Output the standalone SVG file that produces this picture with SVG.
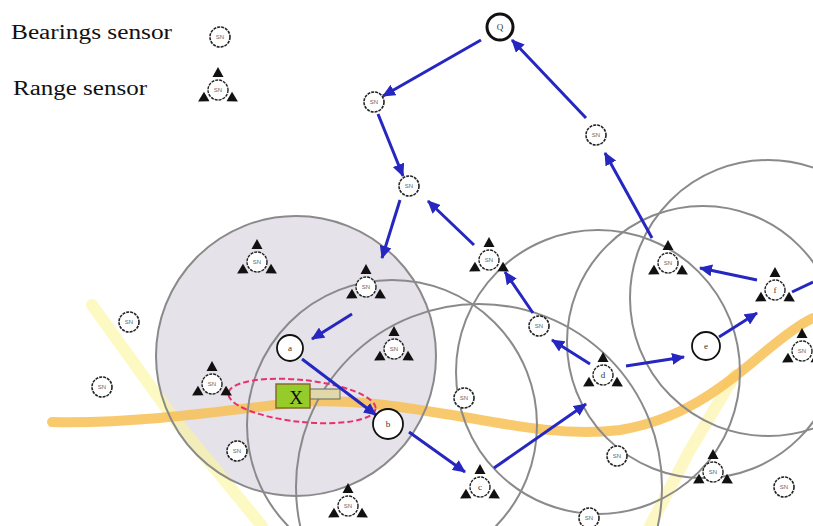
<svg xmlns="http://www.w3.org/2000/svg" xmlns:xlink="http://www.w3.org/1999/xlink" width="813" height="526" viewBox="0 0 813 526">
  <style>
    .legend { font-family: "Liberation Serif", "DejaVu Serif", serif; font-size: 20px; fill: #111; }
    .range { fill: none; stroke: #8a8a8a; stroke-width: 2; }
    .bs { fill: #fff; stroke: #222; stroke-width: 1.6; stroke-dasharray: 3 1; }
    .rsc { fill: #fff; stroke: #222; stroke-width: 1.4; stroke-dasharray: 3 1; }
    .sn { font-family: "Liberation Sans", "DejaVu Sans", sans-serif; font-size: 6px; fill: #666; text-anchor: middle; }
    .lbl { font-family: "Liberation Serif", "DejaVu Serif", serif; font-size: 9px; fill: #333; text-anchor: middle; }
    .pn { fill: #fff; stroke: #111; stroke-width: 1.8; }
    .link { stroke: #2626c0; stroke-width: 3; fill: none; marker-end: url(#head); }
  </style>
  <defs>
    <marker id="head" markerUnits="userSpaceOnUse" markerWidth="14" markerHeight="12" refX="12" refY="6" orient="auto">
      <path d="M0,0 L13,6 L0,12 z" fill="#2626c0"/>
    </marker>
    <polygon id="tri" points="0,-23 -5.5,-13 5.5,-13" fill="#111"/>
    <g id="rmarks">
      <use xlink:href="#tri"/>
      <use xlink:href="#tri" transform="rotate(120)"/>
      <use xlink:href="#tri" transform="rotate(240)"/>
    </g>
  </defs>

  <rect width="813" height="526" fill="#fff"/>

  <!-- sensing area of node a -->
  <circle cx="296" cy="356" r="140" fill="#e5e2ea"/>

  <!-- light bands -->
  <g fill="none" stroke-linecap="round">
    <path d="M92,305 L175,420 L262,526" stroke="#fbf59a" stroke-width="12" opacity="0.6"/>
    <path d="M735,375 L690,450 L650,526" stroke="#fbf08a" stroke-width="12" opacity="0.5"/>
  </g>

  <!-- road -->
  <path d="M52,422 C140,424 230,410 300,402 C360,398 420,410 470,418 C520,427 570,436 620,430 C680,420 720,390 760,356 C785,335 800,324 813,318" fill="none" stroke="#f8c055" stroke-width="10" stroke-linecap="round" opacity="0.85"/>

  <!-- sensing ranges -->
  <g id="ranges">
    <circle class="range" cx="296" cy="356" r="140"/>
    <circle class="range" cx="392" cy="425" r="145"/>
    <circle class="range" cx="479" cy="487" r="183"/>
    <circle class="range" cx="598" cy="372" r="142"/>
    <circle class="range" cx="703" cy="342" r="136"/>
    <circle class="range" cx="768" cy="298" r="138"/>
  </g>

  <!-- target uncertainty and vehicle -->
  <g id="target">
    <ellipse cx="302" cy="401" rx="74" ry="21" transform="rotate(6 302 401)" fill="none" stroke="#e8306a" stroke-width="2" stroke-dasharray="6 3"/>
    <rect x="308" y="389" width="32" height="10" fill="#e0d8a8" stroke="#7a7a6a" stroke-width="1.2"/>
    <rect x="276" y="384" width="34" height="24" fill="#96cc2a" stroke="#8a6a30" stroke-width="1.5"/>
    <text x="296" y="404" font-family="Liberation Serif, serif" font-size="19" fill="#111" text-anchor="middle">X</text>
  </g>

  <!-- legend -->
  <g id="legend">
    <text class="legend" x="11" y="39" textLength="161" lengthAdjust="spacingAndGlyphs">Bearings sensor</text>
    <text class="legend" x="13" y="95" textLength="134" lengthAdjust="spacingAndGlyphs">Range sensor</text>
    <g id="legend-bearing" transform="translate(220,37)">
      <circle class="bs" r="10"/><text class="sn" y="2">SN</text>
    </g>
    <g id="legend-range" transform="translate(218,90)">
      <use xlink:href="#rmarks"/>
      <circle class="rsc" r="10"/><text class="sn" y="2">SN</text>
    </g>
  </g>

  <!-- message path -->
  <g id="connectors">
    <line class="link" x1="481" y1="40" x2="383" y2="96"/>
    <line class="link" x1="378" y1="114" x2="403" y2="176"/>
    <line class="link" x1="400" y1="200" x2="382" y2="258"/>
    <line class="link" x1="474" y1="245" x2="428" y2="201"/>
    <line class="link" x1="352" y1="314" x2="312" y2="339"/>
    <line class="link" x1="302" y1="359" x2="376" y2="415"/>
    <line class="link" x1="409" y1="432" x2="465" y2="472"/>
    <line class="link" x1="494" y1="468" x2="586" y2="404"/>
    <line class="link" x1="590" y1="364" x2="552" y2="340"/>
    <line class="link" x1="533" y1="313" x2="505" y2="272"/>
    <line class="link" x1="626" y1="366" x2="684" y2="357"/>
    <line class="link" x1="719" y1="337" x2="757" y2="313"/>
    <line class="link" x1="757" y1="280" x2="700" y2="268"/>
    <line class="link" x1="652" y1="238" x2="605" y2="153"/>
    <line class="link" x1="586" y1="118" x2="512" y2="40"/>
    <line x1="792" y1="292" x2="813" y2="282" stroke="#2626c0" stroke-width="3"/>
  </g>

  <!-- bearing sensors -->
  <g id="bs1" transform="translate(374,102)"><circle class="bs" r="10"/><text class="sn" y="2">SN</text></g>
  <g id="bs2" transform="translate(596,135)"><circle class="bs" r="10"/><text class="sn" y="2">SN</text></g>
  <g id="bs3" transform="translate(409,186)"><circle class="bs" r="10"/><text class="sn" y="2">SN</text></g>
  <g id="bs4" transform="translate(129,322)"><circle class="bs" r="10"/><text class="sn" y="2">SN</text></g>
  <g id="bs5" transform="translate(102,387)"><circle class="bs" r="10"/><text class="sn" y="2">SN</text></g>
  <g id="bs6" transform="translate(237,451)"><circle class="bs" r="10"/><text class="sn" y="2">SN</text></g>
  <g id="bs7" transform="translate(539,326)"><circle class="bs" r="10"/><text class="sn" y="2">SN</text></g>
  <g id="bs8" transform="translate(464,398)"><circle class="bs" r="10"/><text class="sn" y="2">SN</text></g>
  <g id="bs9" transform="translate(617,456)"><circle class="bs" r="10"/><text class="sn" y="2">SN</text></g>
  <g id="bs10" transform="translate(784,487)"><circle class="bs" r="10"/><text class="sn" y="2">SN</text></g>
  <g id="bs11" transform="translate(589,518)"><circle class="bs" r="10"/><text class="sn" y="2">SN</text></g>

  <!-- range sensors -->
  <g id="rs1" transform="translate(257,262)"><use xlink:href="#rmarks"/><circle class="rsc" r="10"/><text class="sn" y="2">SN</text></g>
  <g id="rs2" transform="translate(366,287)"><use xlink:href="#rmarks"/><circle class="rsc" r="10"/><text class="sn" y="2">SN</text></g>
  <g id="rs3" transform="translate(394,349)"><use xlink:href="#rmarks"/><circle class="rsc" r="10"/><text class="sn" y="2">SN</text></g>
  <g id="rs4" transform="translate(212,384)"><use xlink:href="#rmarks"/><circle class="rsc" r="10"/><text class="sn" y="2">SN</text></g>
  <g id="rs5" transform="translate(489,260)"><use xlink:href="#rmarks"/><circle class="rsc" r="10"/><text class="sn" y="2">SN</text></g>
  <g id="rs6" transform="translate(668,263)"><use xlink:href="#rmarks"/><circle class="rsc" r="10"/><text class="sn" y="2">SN</text></g>
  <g id="rs7" transform="translate(802,351)"><use xlink:href="#rmarks"/><circle class="rsc" r="10"/><text class="sn" y="2">SN</text></g>
  <g id="rs8" transform="translate(348,506)"><use xlink:href="#rmarks"/><circle class="rsc" r="10"/><text class="sn" y="2">SN</text></g>
  <g id="rs9" transform="translate(713,472)"><use xlink:href="#rmarks"/><circle class="rsc" r="10"/><text class="sn" y="2">SN</text></g>

  <!-- path nodes -->
  <g id="node-f" transform="translate(775,290)"><use xlink:href="#rmarks"/><circle class="rsc" r="10"/><text class="lbl" y="3">f</text></g>
  <g id="node-d" transform="translate(603,375)"><use xlink:href="#rmarks"/><circle class="rsc" r="10"/><text class="lbl" y="3">d</text></g>
  <g id="node-c" transform="translate(480,487)"><use xlink:href="#rmarks"/><circle class="rsc" r="10"/><text class="lbl" y="3">c</text></g>
  <g id="node-a" transform="translate(290,348)"><circle class="pn" r="13"/><text class="lbl" y="3">a</text></g>
  <g id="node-b" transform="translate(388,424)"><circle class="pn" r="15"/><text class="lbl" y="3">b</text></g>
  <g id="node-e" transform="translate(706,346)"><circle class="pn" r="14"/><text class="lbl" y="3">e</text></g>
  <g id="node-q" transform="translate(500,27)"><circle cx="0" cy="0" r="13" fill="#fff" stroke="#111" stroke-width="3"/><text class="lbl" y="3">Q</text></g>
</svg>
